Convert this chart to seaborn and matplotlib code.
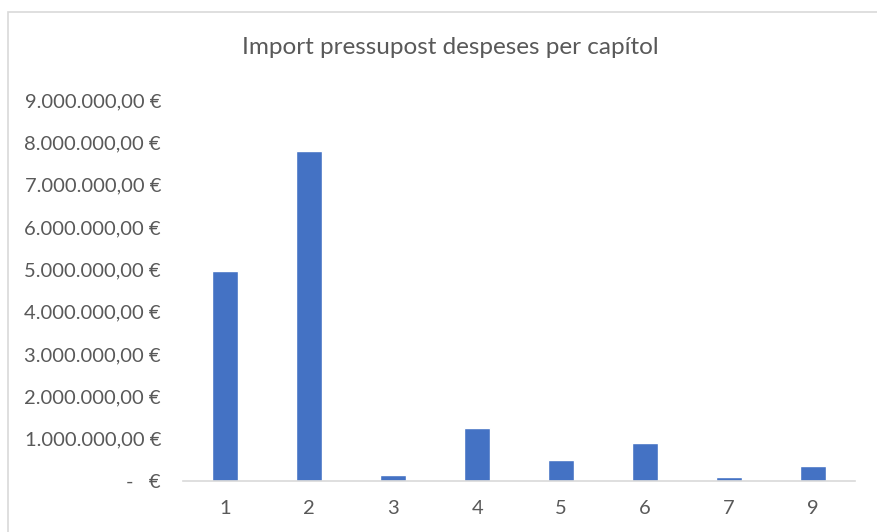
import matplotlib
matplotlib.use('Agg')
import matplotlib.pyplot as plt
import seaborn as sns
import pandas as pd
from matplotlib.ticker import FuncFormatter, MultipleLocator
from matplotlib.patches import Rectangle

capitols = ['1', '2', '3', '4', '5', '6', '7', '9']
imports = [4950000, 7790000, 130000, 1260000, 500000, 890000, 90000, 360000]

df = pd.DataFrame({'capitol': capitols, 'import': imports})

sns.set_theme(style='white')
plt.rcParams['font.family'] = ['Lato', 'DejaVu Sans']

fig = plt.figure(figsize=(8.77, 5.32), dpi=100)
ax = fig.add_axes([0.209, 0.096, 0.766, 0.716])

sns.barplot(data=df, x='capitol', y='import', color='#4472C4', width=0.31,
            saturation=1, ax=ax)

ax.set_ylim(0, 9000000)
ax.set_xlim(-0.5, len(capitols) - 0.5)
ax.yaxis.set_major_locator(MultipleLocator(1000000))


def euros(v, pos):
    if v == 0:
        return '-   €'
    s = f'{v:,.2f}'.replace(',', 'X').replace('.', ',').replace('X', '.')
    return s + ' €'


ax.yaxis.set_major_formatter(FuncFormatter(euros))
ax.tick_params(axis='both', length=0, labelsize=14.5, colors='#595959')
ax.tick_params(axis='y', pad=16)
ax.tick_params(axis='x', pad=14)
ax.set_xlabel('')
ax.set_ylabel('')
for side in ['top', 'right', 'left']:
    ax.spines[side].set_visible(False)
ax.spines['bottom'].set_color('#D9D9D9')
ax.spines['bottom'].set_linewidth(1.2)

fig.text(0.514, 0.91, 'Import pressupost despeses per capítol', ha='center',
         va='center', fontsize=17.5, color='#595959')

fig.patches.append(Rectangle((8 / 877, -0.1), 1.2, 1 - 12 / 532 + 0.1,
                             transform=fig.transFigure, fill=False,
                             edgecolor='#D9D9D9', linewidth=1.2))

fig.savefig('out.png', dpi=100)
